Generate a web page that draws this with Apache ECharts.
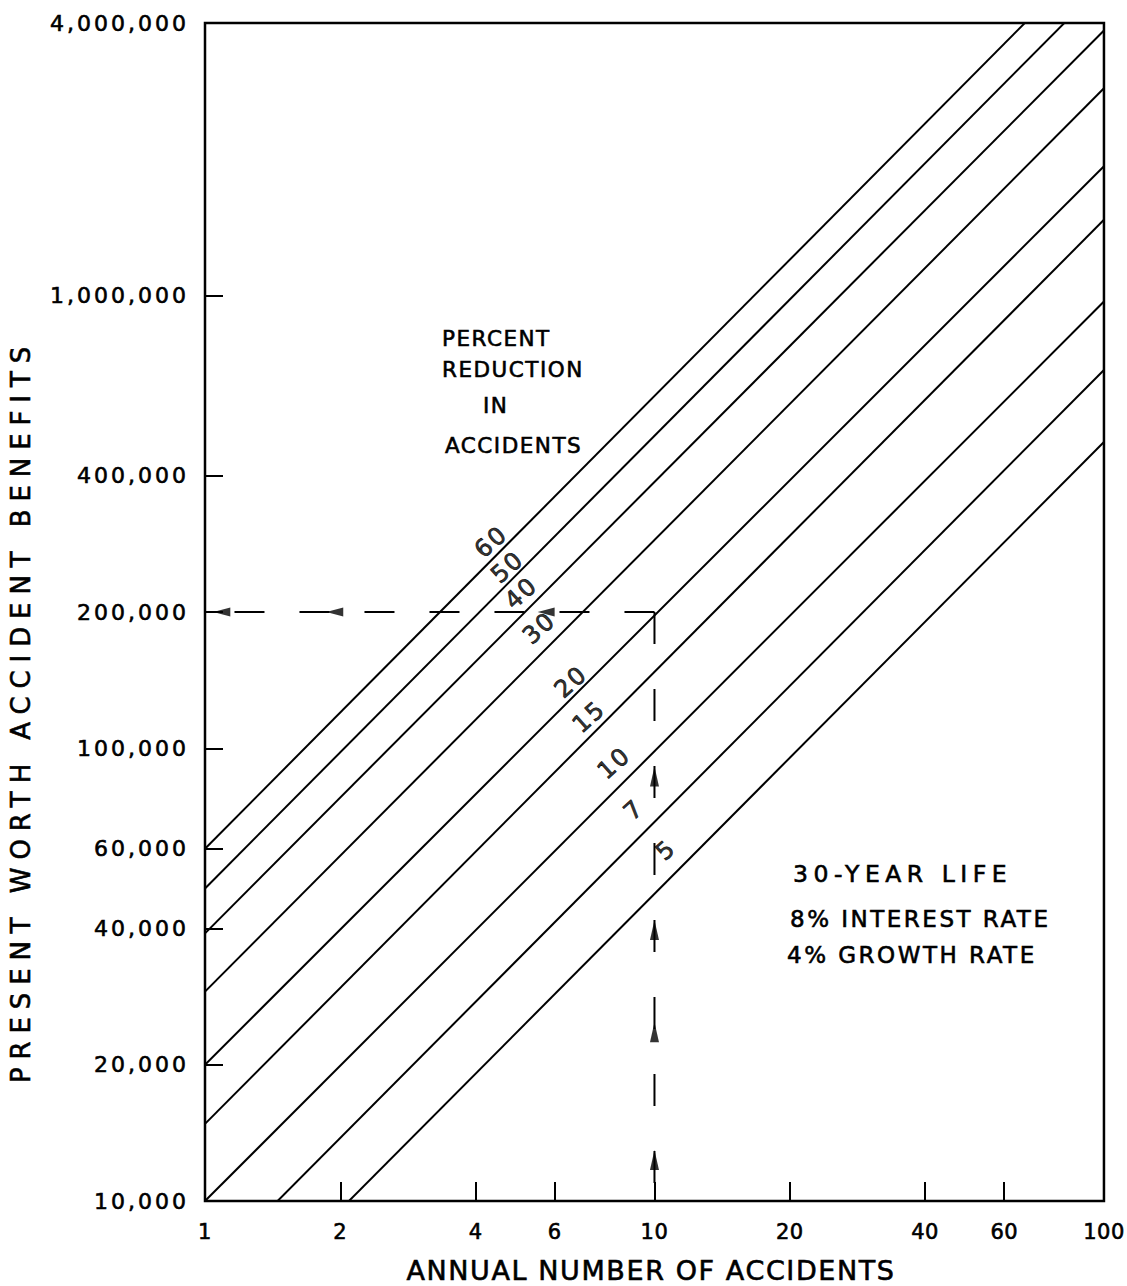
<!DOCTYPE html>
<html>
<head>
<meta charset="utf-8">
<title>Present Worth Accident Benefits</title>
<script src="https://cdn.jsdelivr.net/npm/echarts@6/dist/echarts.min.js"></script>
<style>
  html, body { margin: 0; padding: 0; background: #ffffff; }
  #chart { width: 1127px; height: 1286px; }
  /* pen-lettered look: a slightly heavier stroke and tracking set per text size */
  #chart text { stroke: #000000; stroke-width: 0.6px; }
  #chart text[style*="21px"] { letter-spacing: 0.5px; }
  #chart text[style*="22px"] { letter-spacing: 3px; }
  #chart text[style*="21.5px"] { letter-spacing: 1.5px; }
  #chart text[style*="24px"] { letter-spacing: 2px; }
  #chart text[style*="23px"] { letter-spacing: 2.5px; }
  #chart text[style*="23.5px"] { letter-spacing: 5.5px; }
  #chart text[style*="26px"] { letter-spacing: 7.9px; }
  #chart text[style*="27px"] { letter-spacing: 1.6px; }
</style>
</head>
<body>
<div id="chart"></div>
<script>
// Percent reduction in accidents, one straight line each
const percentLabels = ['60', '50', '40', '30', '20', '15', '10', '7', '5'];
// Present worth of benefits at 1 and at 100 accidents per year
const benefitAtOne = [60000, 49000, 39000, 29000, 20000, 14800, 10000, 6900, 4790];
const benefitAtHundred = [6000000, 4900000, 3850000, 2870000, 1930000, 1470000, 970000, 685000, 475000];
// Where each percent number sits beside its line
const labelX = [4.33, 4.71, 5.05, 5.54, 6.52, 7.15, 8.13, 9.0, 10.6];
const labelY = [286000, 251500, 220300, 184400, 140300, 117400, 92800, 73100, 59600];

// Axis tick values
const xTicks = [1, 2, 4, 6, 10, 20, 40, 60, 100];
const yTicks = [10000, 20000, 40000, 60000, 100000, 200000, 400000, 1000000, 4000000];

// Worked example: 10 accidents a year read across to $200,000
const exampleAccidents = 10;
const exampleBenefit = 200000;
const leftArrowX = [1.09, 1.944, 5.74];
const upArrowY = [86600, 39700, 23600, 12320];

const black = '#000000';
const font = 'DejaVu Sans';

const chart = echarts.init(document.getElementById('chart'), null, { renderer: 'svg' });

const percentLines = percentLabels.map((p, i) => ({
  name: p + '%',
  type: 'line',
  data: [[1, benefitAtOne[i]], [100, benefitAtHundred[i]]],
  symbol: 'none',
  showSymbol: false,
  clip: true,
  silent: true,
  lineStyle: { color: black, width: 2 },
  z: 3
}));

function note(text, x, y, size, align) {
  return {
    type: 'text', x: x, y: y,
    style: { text: text, fontFamily: font, fontSize: size, fill: black, align: align || 'left', verticalAlign: 'middle' }
  };
}

const option = {
  animation: false,
  backgroundColor: '#ffffff',
  grid: {
    left: 205, right: 21, top: 23, bottom: 85,
    show: true, borderColor: black, borderWidth: 2.5, backgroundColor: 'transparent'
  },
  xAxis: {
    type: 'log', logBase: 10, min: 1, max: 100,
    axisLine: { show: false },
    splitLine: { show: false },
    minorTick: { show: false },
    axisTick: {
      show: true, inside: true, length: 19,
      lineStyle: { color: black, width: 2 },
      customValues: xTicks.slice(1, -1)
    },
    axisLabel: {
      show: true, margin: 20, color: black, fontFamily: font, fontSize: 21,
      customValues: xTicks,
      formatter: v => String(Math.round(v))
    }
  },
  yAxis: {
    type: 'log', logBase: 10, min: 10000, max: 4000000,
    axisLine: { show: false },
    splitLine: { show: false },
    minorTick: { show: false },
    axisTick: {
      show: true, inside: true, length: 18,
      lineStyle: { color: black, width: 2 },
      customValues: yTicks.slice(1, -1)
    },
    axisLabel: {
      show: true, margin: 16, color: black, fontFamily: font, fontSize: 22,
      customValues: yTicks,
      formatter: v => Math.round(v).toLocaleString('en-US')
    }
  },
  series: [
    ...percentLines,
    {
      name: 'read-across',
      type: 'line',
      data: [[exampleAccidents, exampleBenefit], [1, exampleBenefit]],
      symbol: 'none', clip: true, silent: true,
      lineStyle: { color: black, width: 2, type: [30, 35] },
      z: 4
    },
    {
      name: 'read-up',
      type: 'line',
      data: [[exampleAccidents, exampleBenefit], [exampleAccidents, 10000]],
      symbol: 'none', clip: true, silent: true,
      lineStyle: { color: black, width: 2, type: [32, 45] },
      z: 4
    },
    {
      name: 'arrows-left',
      type: 'scatter',
      data: leftArrowX.map(x => [x, exampleBenefit]),
      symbol: 'triangle', symbolSize: [9, 17], symbolRotate: 90,
      itemStyle: { color: black }, silent: true, z: 5
    },
    {
      name: 'arrows-up',
      type: 'scatter',
      data: upArrowY.map(y => [exampleAccidents, y]),
      symbol: 'triangle', symbolSize: [9, 20],
      itemStyle: { color: black }, silent: true, z: 5
    },
    {
      name: 'percent-labels',
      type: 'scatter',
      data: percentLabels.map((p, i) => ({ name: p, value: [labelX[i], labelY[i]] })),
      symbolSize: 1,
      itemStyle: { color: 'transparent' },
      silent: true,
      label: {
        show: true, position: 'inside', formatter: '{b}', rotate: 42,
        fontFamily: font, fontSize: 24, color: black
      },
      z: 6
    }
  ],
  graphic: [
    {
      type: 'text', x: 21, y: 711, rotation: Math.PI / 2,
      style: { text: 'PRESENT WORTH ACCIDENT BENEFITS', fontFamily: font, fontSize: 26, fill: black, align: 'center', verticalAlign: 'middle' }
    },
    note('ANNUAL NUMBER OF ACCIDENTS', 651, 1270, 27, 'center'),
    note('PERCENT', 442, 338, 21.5),
    note('REDUCTION', 442, 369, 21.5),
    note('IN', 483, 405, 21.5),
    note('ACCIDENTS', 445, 445, 21.5),
    note('30-YEAR LIFE', 793, 874, 23.5),
    note('8% INTEREST RATE', 790, 919, 23),
    note('4% GROWTH RATE', 787, 955, 23)
  ]
};

chart.setOption(option);
</script>
</body>
</html>
